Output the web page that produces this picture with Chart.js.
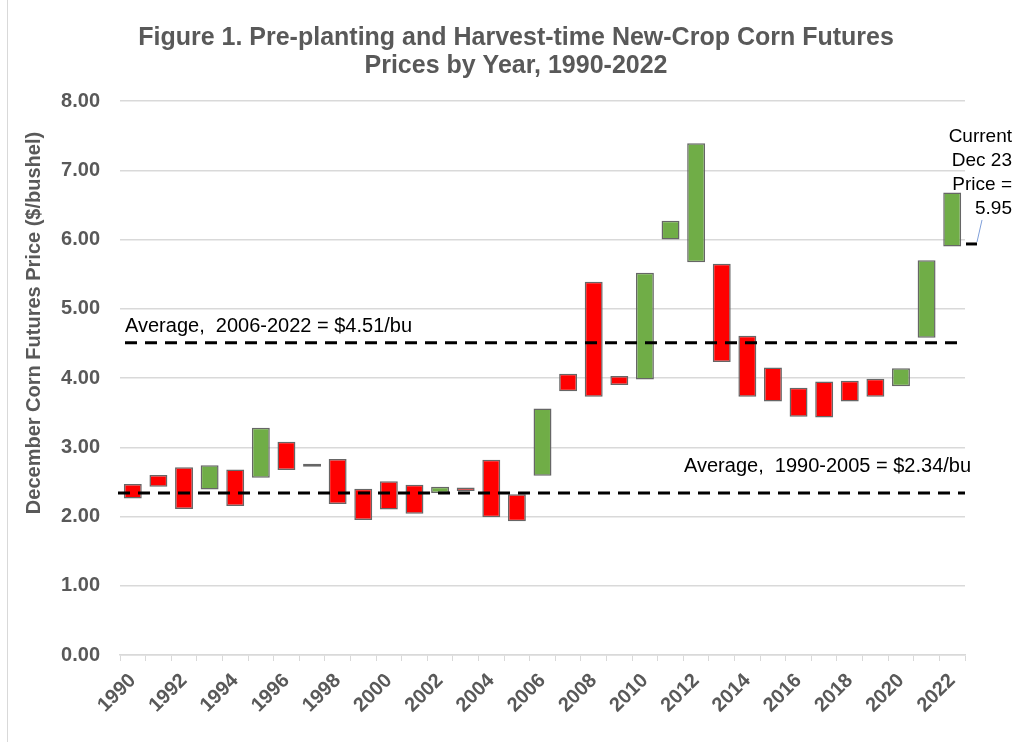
<!DOCTYPE html>
<html>
<head>
<meta charset="utf-8">
<script src="https://cdn.jsdelivr.net/npm/chart.js@4/dist/chart.umd.min.js"></script>
<style>
  html, body { margin: 0; padding: 0; background: #ffffff; }
  #wrap { position: relative; width: 1013px; height: 742px; }
</style>
</head>
<body>
<div id="wrap"><canvas id="c" width="1013" height="742"></canvas></div>
<script>
// ---- data ----
const years = ['1990','1991','1992','1993','1994','1995','1996','1997','1998','1999','2000','2001','2002','2003','2004','2005','2006','2007','2008','2009','2010','2011','2012','2013','2014','2015','2016','2017','2018','2019','2020','2021','2022'];
const preplantPrice = [2.47,2.60,2.71,2.39,2.68,2.56,3.08,2.72,2.83,2.40,2.51,2.46,2.34,2.42,2.82,2.32,2.59,4.06,5.39,4.03,3.98,6.00,5.67,5.65,4.61,4.15,3.86,3.95,3.96,3.99,3.88,4.58,5.90];
const harvestPrice  = [2.26,2.43,2.11,2.74,2.15,3.28,2.67,2.76,2.18,1.95,2.10,2.04,2.43,2.37,1.99,1.93,3.56,3.81,3.73,3.90,5.52,6.27,7.39,4.23,3.73,3.66,3.44,3.43,3.66,3.73,4.14,5.70,6.68];
const averageValues = [2.34, 4.51];
const averageLabels = ['Average,  1990-2005 = $2.34/bu', 'Average,  2006-2022 = $4.51/bu'];
const currentPrice = 5.95;
const currentLabel = ['Current', 'Dec 23', 'Price =', '5.95'];
const titleLines = ['Figure 1. Pre-planting and Harvest-time New-Crop Corn Futures', 'Prices by Year, 1990-2022'];
const yAxisTitle = 'December Corn Futures Price ($/bushel)';

const GREY = '#595959';
const FONT = "'Liberation Sans', Arial, sans-serif";

const ranges = years.map((y, i) => [preplantPrice[i], harvestPrice[i]]);
const fills = years.map((y, i) => harvestPrice[i] < preplantPrice[i] ? '#FF0000' : '#70AD47');

const extras = {
  id: 'extras',
  afterDatasetsDraw(chart) {
    const ctx = chart.ctx;
    const ys = chart.scales.y;
    const area = chart.chartArea;
    ctx.save();
    // title
    ctx.fillStyle = GREY;
    ctx.font = 'bold 25px ' + FONT;
    ctx.textAlign = 'center';
    ctx.textBaseline = 'middle';
    titleLines.forEach((t, i) => ctx.fillText(t, 516, 38 + i * 28.5));
    // average dashed lines
    ctx.strokeStyle = '#000000';
    ctx.lineWidth = 3;
    ctx.setLineDash([12, 8]);
    const ext = [[area.left - 2, area.right], [area.left + 5, area.right - 5]];
    averageValues.forEach((v, i) => {
      const py = ys.getPixelForValue(v);
      ctx.beginPath();
      ctx.moveTo(ext[i][0], py);
      ctx.lineTo(ext[i][1], py);
      ctx.stroke();
    });
    ctx.setLineDash([]);
    // average labels
    ctx.fillStyle = '#000000';
    ctx.font = '20px ' + FONT;
    ctx.textBaseline = 'middle';
    ctx.textAlign = 'left';
    ctx.fillText(averageLabels[0], 684, ys.getPixelForValue(averageValues[0]) - 26);
    ctx.fillText(averageLabels[1], area.left + 5, ys.getPixelForValue(averageValues[1]) - 16);
    // current price marker
    const cy = ys.getPixelForValue(currentPrice);
    ctx.lineWidth = 3;
    ctx.beginPath();
    ctx.moveTo(area.right + 1, cy + 1);
    ctx.lineTo(area.right + 12, cy + 1);
    ctx.stroke();
    // leader line
    ctx.strokeStyle = '#7F9FD9';
    ctx.lineWidth = 1;
    ctx.beginPath();
    ctx.moveTo(982, cy - 23);
    ctx.lineTo(977, cy - 1);
    ctx.stroke();
    // annotation text
    ctx.fillStyle = '#000000';
    ctx.font = '19px ' + FONT;
    ctx.textAlign = 'right';
    currentLabel.forEach((t, i) => {
      ctx.fillText(t, 1012, 137 + i * 24);
    });
    // y axis title
    ctx.save();
    ctx.translate(34, 323);
    ctx.rotate(-Math.PI / 2);
    ctx.textAlign = 'center';
    ctx.fillStyle = GREY;
    ctx.font = 'bold 20px ' + FONT;
    ctx.fillText(yAxisTitle, 0, 0);
    ctx.restore();
    // left frame line
    ctx.strokeStyle = '#D9D9D9';
    ctx.lineWidth = 1;
    ctx.beginPath();
    ctx.moveTo(7.5, 0);
    ctx.lineTo(7.5, 742);
    ctx.stroke();
    ctx.restore();
  }
};

new Chart(document.getElementById('c'), {
  type: 'bar',
  data: {
    labels: years,
    datasets: [{
      data: ranges,
      backgroundColor: fills,
      borderColor: '#666666',
      borderWidth: 1.5,
      borderSkipped: false,
      barPercentage: 0.7,
      categoryPercentage: 1.0
    }]
  },
  options: {
    responsive: false,
    animation: false,
    devicePixelRatio: 1,
    layout: { padding: { left: 0, right: 48, top: 101, bottom: 0 } },
    plugins: {
      legend: { display: false },
      tooltip: { enabled: false },
      title: { display: false }
    },
    scales: {
      x: {
        grid: { offset: true, drawOnChartArea: false, color: '#D9D9D9', tickLength: 6, lineWidth: 1 },
        border: { color: '#D9D9D9', width: 1.5 },
        ticks: {
          autoSkip: false,
          maxRotation: 45,
          minRotation: 45,
          padding: 8,
          color: GREY,
          font: { family: FONT, size: 20, weight: 'bold' },
          callback: function(v, i) { return (parseInt(years[i]) % 2 === 0) ? years[i] : ''; }
        },
        afterFit: function(s) { s.height = 87; }
      },
      y: {
        min: 0,
        max: 8,
        grid: { color: '#D9D9D9', lineWidth: 1.5, drawTicks: false },
        border: { display: false },
        ticks: {
          stepSize: 1,
          padding: 20,
          color: GREY,
          font: { family: FONT, size: 20, weight: 'bold' },
          callback: function(v) { return Number(v).toFixed(2); }
        },
        afterFit: function(s) { s.width = 120; }
      }
    }
  },
  plugins: [extras]
});
</script>
</body>
</html>
